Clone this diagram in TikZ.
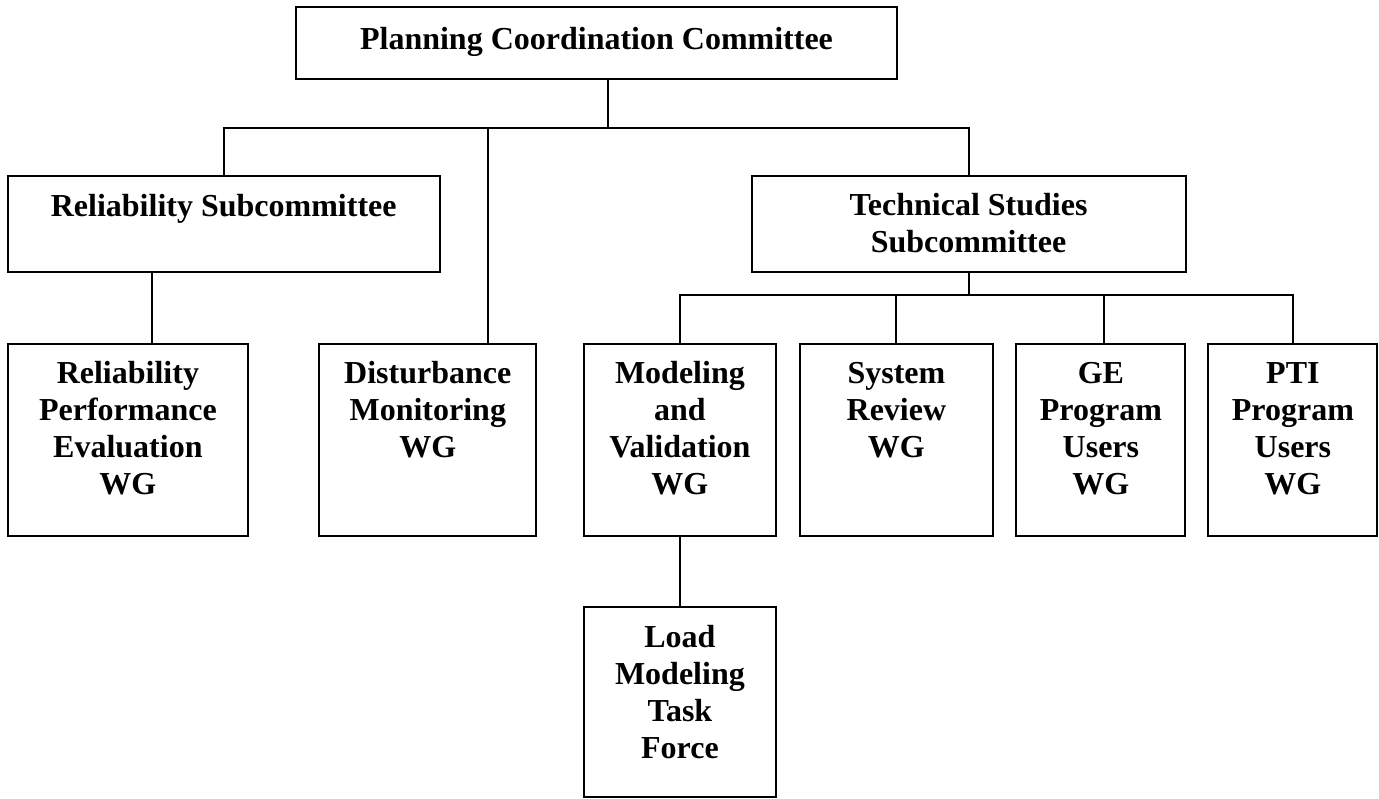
\documentclass[tikz,border=0pt]{standalone}
\usepackage{fontspec}
\setmainfont{Liberation Serif}
\newcommand{\mlines}[1]{\begin{tabular}[t]{@{}c@{}}#1\end{tabular}}
\begin{document}
\begin{tikzpicture}[x=1pt,y=-1pt,
  box/.style={draw=black,line width=2pt,rectangle,inner sep=0pt,fill=white},
  lbl/.style={anchor=base,inner sep=0pt,font=\fontsize{32}{37}\selectfont\bfseries},
  conn/.style={draw=black,line width=2pt}]
\useasboundingbox[fill=white] (0,0) rectangle (1379,799);
% boxes
\node[box,minimum width=601pt,minimum height=72pt] (pcc) at (596.5,43.3) {};
\node[box,minimum width=432pt,minimum height=96pt] (rs) at (223.7,223.7) {};
\node[box,minimum width=434pt,minimum height=96pt] (ts) at (968.5,223.7) {};
\node[box,minimum width=240pt,minimum height=192pt] (rpe) at (127.9,439.6) {};
\node[box,minimum width=217pt,minimum height=192pt] (dm) at (427.8,439.6) {};
\node[box,minimum width=192pt,minimum height=192pt] (mv) at (679.9,439.6) {};
\node[box,minimum width=193pt,minimum height=192pt] (sr) at (896.4,439.6) {};
\node[box,minimum width=169pt,minimum height=192pt] (ge) at (1100.9,439.6) {};
\node[box,minimum width=169pt,minimum height=192pt] (pti) at (1292.9,439.6) {};
\node[box,minimum width=192pt,minimum height=190pt] (lm) at (679.9,702.2) {};
% labels
\node[lbl] (pcc-t) at (596.5,49.5) {Planning Coordination Committee};
\node[lbl] (rs-t) at (223.7,217) {Reliability Subcommittee};
\node[lbl] (ts-t) at (968.5,215.5) {\mlines{Technical Studies\\Subcommittee}};
\node[lbl] (rpe-t) at (127.9,383.3) {\mlines{Reliability\\Performance\\Evaluation\\WG}};
\node[lbl] (dm-t) at (427.8,383.3) {\mlines{Disturbance\\Monitoring\\WG}};
\node[lbl] (mv-t) at (679.9,383.3) {\mlines{Modeling\\and\\Validation\\WG}};
\node[lbl] (sr-t) at (896.4,383.3) {\mlines{System\\Review\\WG}};
\node[lbl] (ge-t) at (1100.9,383.3) {\mlines{GE\\Program\\Users\\WG}};
\node[lbl] (pti-t) at (1292.9,383.3) {\mlines{PTI\\Program\\Users\\WG}};
\node[lbl] (lm-t) at (679.9,647.3) {\mlines{Load\\Modeling\\Task\\Force}};
% connector coordinates
\coordinate (b1) at (607.6,127.7);
\coordinate (dmx) at (487.5,127.7);
\coordinate (rsx) at (151.8,300);
\coordinate (b2) at (968.2,295);
\coordinate (gex) at (1104.3,295);
% connectors
\draw[conn] (b1 |- pcc.south) -- (b1);
\draw[conn] (rs.north) -- (rs.north |- b1) -- (ts.north |- b1) -- (ts.north);
\draw[conn] (dmx) -- (dmx |- dm.north);
\draw[conn] (rsx |- rs.south) -- (rsx |- rpe.north);
\draw[conn] (ts.south) -- (ts.south |- b2);
\draw[conn] (mv.north) -- (mv.north |- b2) -- (pti.north |- b2) -- (pti.north);
\draw[conn] (sr.north |- b2) -- (sr.north);
\draw[conn] (gex) -- (gex |- ge.north);
\draw[conn] (mv.south) -- (lm.north);
\end{tikzpicture}
\end{document}
